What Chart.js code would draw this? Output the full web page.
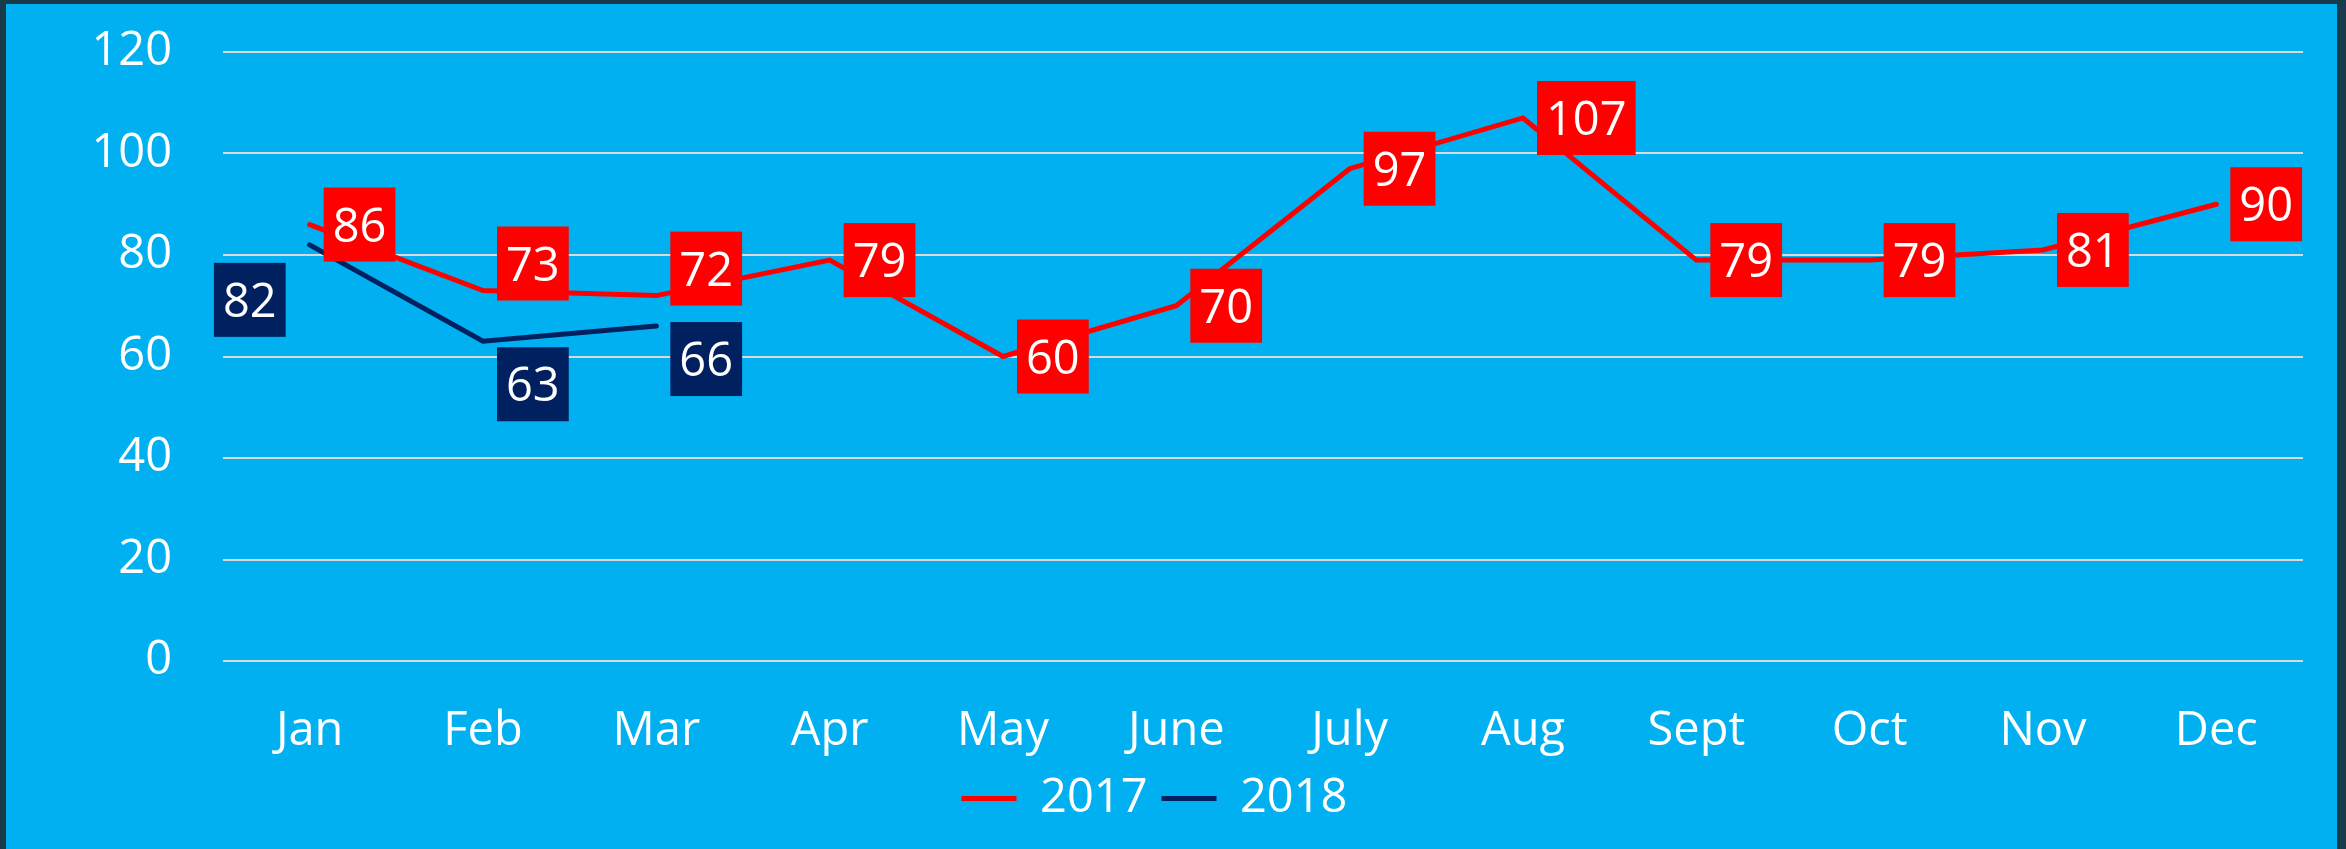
<!DOCTYPE html>
<html>
<head>
<meta charset="utf-8">
<script src="https://cdn.jsdelivr.net/npm/chart.js@4.4.1/dist/chart.umd.min.js"></script>
<style>
  html, body { margin: 0; padding: 0; width: 2346px; height: 849px; overflow: hidden; background: #173b49; }
  #wrap { position: absolute; left: 6px; top: 4px; width: 2331px; height: 845px; background: #00b0f0; }
</style>
</head>
<body>
<div id="wrap"><canvas id="chart"></canvas></div>
<script>
// values
const months = ["Jan", "Feb", "Mar", "Apr", "May", "June", "July", "Aug", "Sept", "Oct", "Nov", "Dec"];
const values2017 = [86, 73, 72, 79, 60, 70, 97, 107, 79, 79, 81, 90];
const values2018 = [82, 63, 66];
const yTicks = [0, 20, 40, 60, 80, 100, 120];

// where each value box sits next to its point (vertical nudge, side)
const labelDy2017 = [0, -27, -27, 0, 0, 0, 0, 0, 0, 0, 0, 0];
const labelDy2018 = [55, 43, 33];
const labelSide2018 = ["left", "right", "right"];

const FONT = "'Open Sans'";
Chart.defaults.font.family = FONT;

// boxed value labels, drawn on top of the lines
const boxLabels = {
  id: "boxLabels",
  afterDatasetsDraw(chart) {
    const ctx = chart.ctx;
    ctx.save();
    ctx.font = "47px " + FONT;
    ctx.textAlign = "center";
    ctx.textBaseline = "alphabetic";
    chart.data.datasets.forEach((ds, i) => {
      const meta = chart.getDatasetMeta(i);
      meta.data.forEach((pt, j) => {
        const v = ds.data[j];
        if (v == null) return;
        const text = String(v);
        const w = ctx.measureText(text).width + 18;
        const h = 74;
        const side = (ds.labelSide && ds.labelSide[j]) || "right";
        const dy = (ds.labelDy && ds.labelDy[j]) || 0;
        const left = side === "left" ? pt.x - 24 - w : pt.x + 14;
        const cy = pt.y + dy;
        ctx.fillStyle = ds.borderColor;
        ctx.fillRect(left, cy - h / 2, w, h);
        ctx.fillStyle = "#ffffff";
        ctx.fillText(text, left + w / 2, cy + 17);
      });
    });
    ctx.restore();
  }
};

new Chart(document.getElementById("chart"), {
  type: "line",
  data: {
    labels: months,
    datasets: [
      {
        label: "2017",
        data: values2017,
        borderColor: "#ff0000",
        backgroundColor: "#ff0000",
        borderWidth: 5,
        borderCapStyle: "round",
        pointRadius: 0,
        tension: 0,
        labelDy: labelDy2017,
      },
      {
        label: "2018",
        data: values2018,
        borderColor: "#002060",
        backgroundColor: "#002060",
        borderWidth: 5,
        borderCapStyle: "round",
        pointRadius: 0,
        tension: 0,
        labelDy: labelDy2018,
        labelSide: labelSide2018,
      },
    ],
  },
  options: {
    responsive: true,
    maintainAspectRatio: false,
    animation: false,
    layout: { padding: { top: 48, right: 34, left: 0, bottom: 17 } },
    plugins: {
      tooltip: { enabled: false },
      legend: {
        position: "bottom",
        labels: {
          color: "#ffffff",
          font: { size: 47 },
          boxWidth: 55,
          boxHeight: 5,
          padding: 14,
          generateLabels(chart) {
            return Chart.defaults.plugins.legend.labels.generateLabels(chart)
              .map((l) => ({ ...l, lineWidth: 0, fillStyle: l.strokeStyle }));
          },
        },
      },
    },
    scales: {
      x: {
        offset: true,
        grid: { display: false, offset: true },
        border: { display: false },
        ticks: { color: "#ffffff", font: { size: 47 }, padding: 34, maxRotation: 0 },
        afterFit(scale) { scale.height = 100; },
      },
      y: {
        min: yTicks[0],
        max: yTicks[yTicks.length - 1],
        afterBuildTicks(scale) { scale.ticks = yTicks.map((v) => ({ value: v })); },
        grid: { color: "#d9d9d9", lineWidth: 2, drawTicks: true, tickLength: 51, tickColor: "rgba(0,0,0,0)" },
        border: { display: false },
        ticks: { color: "#ffffff", font: { size: 47 }, padding: 0 },
        afterFit(scale) { scale.width = 217; },
      },
    },
  },
  plugins: [boxLabels],
});
</script>
</body>
</html>
